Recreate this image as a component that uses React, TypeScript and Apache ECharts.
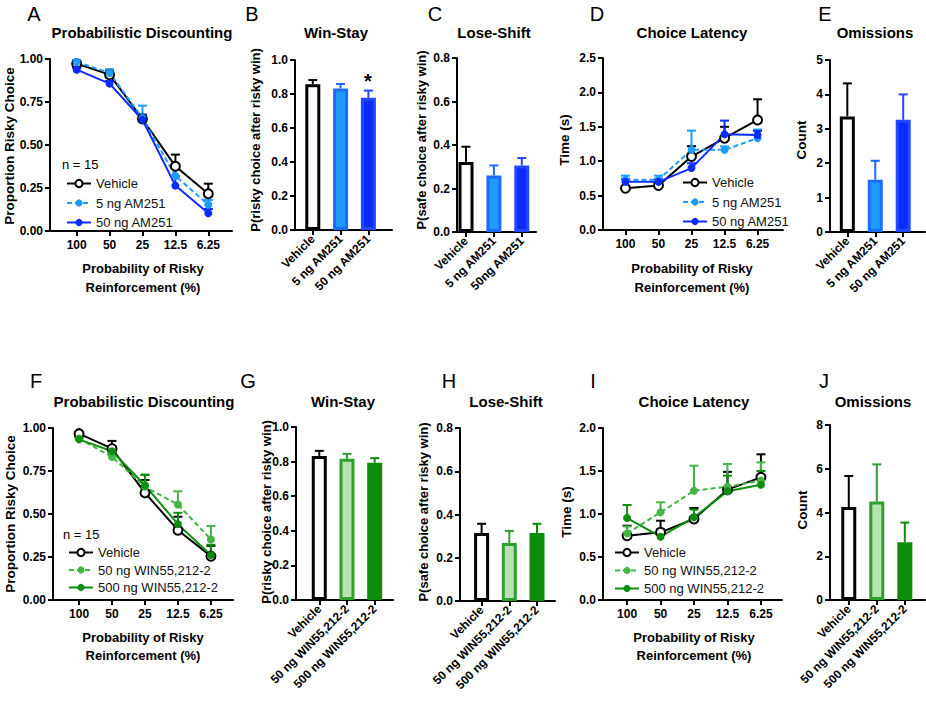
import React, { useEffect, useRef } from "react";
import * as echarts from "echarts";

const FONT = '"Liberation Sans", Arial, Helvetica, sans-serif';

// ---------- categories ----------
const probabilityLabels = ["100", "50", "25", "12.5", "6.25"];
const am251Groups = ["Vehicle", "5 ng AM251", "50 ng AM251"];
const am251GroupsC = ["Vehicle", "5 ng AM251", "50ng AM251"];
const winGroups = ["Vehicle", "50 ng WIN55,212-2", "500 ng WIN55,212-2"];

// ---------- A: Probabilistic discounting (AM251) ----------
const aVehMean = [0.973, 0.909, 0.651, 0.376, 0.217];
const aVehSem = [0.012, 0.029, 0.02, 0.068, 0.058];
const a5Mean = [0.983, 0.919, 0.657, 0.32, 0.153];
const a5Sem = [0.01, 0.02, 0.072, 0.06, 0.027];
const a50Mean = [0.938, 0.857, 0.647, 0.264, 0.103];
const a50Sem = [0.01, 0.015, 0.03, 0.054, 0.025];

// ---------- B: Win-Stay ----------
const bMean = [0.857, 0.833, 0.778];
const bSem = [0.025, 0.026, 0.042];

// ---------- C: Lose-Shift ----------
const cMean = [0.322, 0.26, 0.306];
const cSem = [0.07, 0.046, 0.034];

// ---------- D: Choice latency (AM251) ----------
const dVehMean = [0.607, 0.646, 1.068, 1.335, 1.6];
const dVehSem = [0.03, 0.03, 0.15, 0.165, 0.3];
const d5Mean = [0.73, 0.73, 1.165, 1.165, 1.335];
const d5Sem = [0.06, 0.06, 0.28, 0.05, 0.125];
const d50Mean = [0.7, 0.7, 0.9, 1.39, 1.38];
const d50Sem = [0.04, 0.04, 0.07, 0.2, 0.06];

// ---------- E: Omissions ----------
const eMean = [3.36, 1.52, 3.26];
const eSem = [0.96, 0.55, 0.74];

// ---------- F: Probabilistic discounting (WIN55,212-2) ----------
const fVehMean = [0.967, 0.88, 0.623, 0.406, 0.255];
const fVehSem = [0.01, 0.045, 0.075, 0.078, 0.06];
const f50Mean = [0.938, 0.832, 0.658, 0.555, 0.352];
const f50Sem = [0.01, 0.02, 0.072, 0.077, 0.078];
const f500Mean = [0.934, 0.865, 0.667, 0.441, 0.261];
const f500Sem = [0.01, 0.03, 0.06, 0.066, 0.06];

// ---------- G: Win-Stay ----------
const gMean = [0.833, 0.816, 0.794];
const gSem = [0.029, 0.029, 0.026];

// ---------- H: Lose-Shift ----------
const hMean = [0.314, 0.268, 0.314];
const hSem = [0.043, 0.056, 0.043];

// ---------- I: Choice latency (WIN55,212-2) ----------
const iVehMean = [0.748, 0.787, 0.942, 1.283, 1.426];
const iVehSem = [0.116, 0.135, 0.128, 0.207, 0.268];
const i50Mean = [0.775, 1.019, 1.271, 1.318, 1.388];
const i50Sem = [0.08, 0.117, 0.291, 0.263, 0.212];
const i500Mean = [0.953, 0.736, 0.961, 1.264, 1.341];
const i500Sem = [0.152, 0.09, 0.09, 0.182, 0.159];

// ---------- J: Omissions ----------
const jMean = [4.25, 4.5, 2.64];
const jSem = [1.42, 1.7, 0.9];

// ---------- styles ----------
const BLACK = "#000000";
const LIGHT_BLUE = "#1e9bff";
const DARK_BLUE = "#0a2cff";
const LIGHT_GREEN = "#45b545";
const DARK_GREEN = "#0e8e0e";

const blueBars = [
  { fill: "#ffffff", border: BLACK },
  { fill: "#1e9bff", border: "#1a6cff" },
  { fill: "#0a2cff", border: "#2448ff" },
];
const greenBars = [
  { fill: "#ffffff", border: BLACK },
  { fill: "#b8e2b3", border: "#2f9e2f" },
  { fill: "#0b8c0b", border: "#0b8c0b" },
];

// grid layout: [left, top, width, height, xmin, xmax, ymax, yinterval, decimals]
const panels = [
  [50, 59, 182, 172, -0.81, 4.72, 1, 0.25, 2], // A
  [295, 60, 97, 170, -0.64, 2.85, 1, 0.2, 1], // B
  [457, 58, 79, 174, -0.323, 2.51, 0.8, 0.2, 1], // C
  [603, 58, 180, 172, -0.68, 4.77, 2.5, 0.5, 1], // D
  [830, 60, 95, 172, -0.62, 2.78, 5, 1, 0], // E
  [53, 428, 180, 172, -0.79, 4.67, 1, 0.25, 2], // F
  [296, 427, 97, 173, -0.84, 2.66, 1, 0.2, 1], // G
  [460, 428, 95, 173, -0.78, 2.65, 0.8, 0.2, 1], // H
  [603, 428, 179, 172, -0.72, 4.63, 2, 0.5, 1], // I
  [830, 425, 95, 175, -0.67, 2.72, 8, 2, 0], // J
];
const panelLabels = [probabilityLabels, am251Groups, am251GroupsC, probabilityLabels, am251Groups,
  probabilityLabels, winGroups, winGroups, probabilityLabels, winGroups];

function lineSeries(name: string, idx: number, mean: number[], color: string, dashed: boolean, empty: boolean, z: number) {
  return {
    type: "line",
    name,
    xAxisIndex: idx,
    yAxisIndex: idx,
    data: mean.map((v, i) => [i, v]),
    symbol: "circle",
    symbolSize: empty ? 9 : 8,
    showSymbol: true,
    lineStyle: { color, width: 2, type: dashed ? [5, 3] : "solid" },
    itemStyle: empty
      ? { color: "#ffffff", borderColor: color, borderWidth: 2 }
      : { color, borderColor: color, borderWidth: 0 },
    z,
    silent: true,
  };
}

function errorSeries(idx: number, mean: number[], sem: number[], color: string, capW: number, z: number) {
  return {
    type: "custom",
    xAxisIndex: idx,
    yAxisIndex: idx,
    z,
    silent: true,
    clip: false,
    data: mean.map((v, i) => [i, v, v + sem[i]]),
    encode: { x: 0, y: [1, 2] },
    renderItem: (_p: any, api: any) => {
      const x = api.value(0);
      const p1 = api.coord([x, api.value(1)]);
      const p2 = api.coord([x, api.value(2)]);
      return {
        type: "group",
        children: [
          { type: "line", shape: { x1: p1[0], y1: p1[1], x2: p2[0], y2: p2[1] }, style: { stroke: color, lineWidth: 2 } },
          { type: "line", shape: { x1: p2[0] - capW / 2, y1: p2[1], x2: p2[0] + capW / 2, y2: p2[1] }, style: { stroke: color, lineWidth: 2 } },
        ],
      };
    },
  };
}

function barSet(idx: number, mean: number[], sem: number[], styles: { fill: string; border: string }[]) {
  const out: any[] = [
    {
      type: "bar",
      name: "bars" + idx,
      xAxisIndex: idx,
      yAxisIndex: idx,
      barWidth: 15,
      silent: true,
      z: 2,
      data: mean.map((v, i) => ({
        value: [i, v],
        itemStyle: { color: styles[i].fill, borderColor: styles[i].border, borderWidth: 3 },
      })),
    },
  ];
  mean.forEach((v, i) => {
    const s = errorSeries(idx, [v], [sem[i]], styles[i].border, 9, 3);
    s.data = [[i, v, v + sem[i]]];
    out.push(s);
  });
  return out;
}

function txt(text: string, x: number, y: number, size: number, weight: string, opts: any = {}) {
  return {
    type: "text",
    x,
    y,
    rotation: opts.rot || 0,
    silent: true,
    style: {
      text,
      fontSize: size,
      fontWeight: weight,
      fontFamily: FONT,
      fill: "#000",
      align: opts.align || "center",
      verticalAlign: opts.va || "middle",
    },
  };
}

function buildOption() {
  const grid = panels.map((p) => ({ left: p[0], top: p[1], width: p[2], height: p[3], containLabel: false }));
  const axisLine = { show: true, onZero: false, lineStyle: { color: "#000", width: 2 } };
  const xAxis = panels.map((p, idx) => {
    const labels = panelLabels[idx];
    const isBar = labels.length === 3;
    const ticks = labels.map((_, i) => i);
    return {
      type: "value",
      gridIndex: idx,
      min: p[4],
      max: p[5],
      axisLine,
      splitLine: { show: false },
      axisTick: { show: true, customValues: ticks, length: 5, lineStyle: { color: "#000", width: 2 } },
      axisLabel: {
        show: true,
        customValues: ticks,
        formatter: (v: number) => labels[Math.round(v)] ?? "",
        fontSize: 12,
        fontWeight: "bold",
        color: "#000",
        fontFamily: FONT,
        margin: isBar ? 7 : 8,
        rotate: isBar ? 45 : 0,
      },
    };
  });
  const yAxis = panels.map((p, idx) => ({
    type: "value",
    gridIndex: idx,
    min: 0,
    max: p[6],
    interval: p[7],
    axisLine,
    splitLine: { show: false },
    axisTick: { show: true, length: 5, lineStyle: { color: "#000", width: 2 } },
    axisLabel: {
      formatter: (v: number) => v.toFixed(p[8] as number),
      fontSize: 12,
      fontWeight: "bold",
      color: "#000",
      fontFamily: FONT,
      margin: 7,
    },
  }));

  const series: any[] = [
    // A
    errorSeries(0, aVehMean, aVehSem, BLACK, 9, 3),
    errorSeries(0, a5Mean, a5Sem, LIGHT_BLUE, 9, 3),
    errorSeries(0, a50Mean, a50Sem, DARK_BLUE, 9, 3),
    lineSeries("Vehicle", 0, aVehMean, BLACK, false, true, 5),
    lineSeries("5 ng AM251", 0, a5Mean, LIGHT_BLUE, true, false, 5),
    lineSeries("50 ng AM251", 0, a50Mean, DARK_BLUE, false, false, 5),
    // B, C
    ...barSet(1, bMean, bSem, blueBars),
    ...barSet(2, cMean, cSem, blueBars),
    // D
    errorSeries(3, dVehMean, dVehSem, BLACK, 9, 3),
    errorSeries(3, d5Mean, d5Sem, LIGHT_BLUE, 9, 3),
    errorSeries(3, d50Mean, d50Sem, DARK_BLUE, 9, 3),
    lineSeries("Vehicle", 3, dVehMean, BLACK, false, true, 5),
    lineSeries("5 ng AM251", 3, d5Mean, LIGHT_BLUE, true, false, 5),
    lineSeries("50 ng AM251", 3, d50Mean, DARK_BLUE, false, false, 5),
    // E
    ...barSet(4, eMean, eSem, blueBars),
    // F
    errorSeries(5, fVehMean, fVehSem, BLACK, 9, 3),
    errorSeries(5, f50Mean, f50Sem, LIGHT_GREEN, 9, 3),
    errorSeries(5, f500Mean, f500Sem, DARK_GREEN, 9, 3),
    lineSeries("Vehicle", 5, fVehMean, BLACK, false, true, 5),
    lineSeries("50 ng WIN55,212-2", 5, f50Mean, LIGHT_GREEN, true, false, 5),
    lineSeries("500 ng WIN55,212-2", 5, f500Mean, DARK_GREEN, false, false, 5),
    // G, H
    ...barSet(6, gMean, gSem, greenBars),
    ...barSet(7, hMean, hSem, greenBars),
    // I
    errorSeries(8, iVehMean, iVehSem, BLACK, 9, 3),
    errorSeries(8, i50Mean, i50Sem, LIGHT_GREEN, 9, 3),
    errorSeries(8, i500Mean, i500Sem, DARK_GREEN, 9, 3),
    lineSeries("Vehicle", 8, iVehMean, BLACK, false, true, 5),
    lineSeries("50 ng WIN55,212-2", 8, i50Mean, LIGHT_GREEN, true, false, 5),
    lineSeries("500 ng WIN55,212-2", 8, i500Mean, DARK_GREEN, false, false, 5),
    // J
    ...barSet(9, jMean, jSem, greenBars),
  ];

  const legendBase = {
    orient: "vertical",
    itemWidth: 24,
    itemHeight: 9,
    selectedMode: false,
    textStyle: { fontSize: 13, lineHeight: 13, color: "#111", fontFamily: FONT },
  };
  const legend = [
    { ...legendBase, left: 61, top: 172, itemGap: 6.5, data: am251Groups },
    { ...legendBase, left: 677, top: 171, itemGap: 6.5, data: am251Groups },
    { ...legendBase, left: 63, top: 541, itemGap: 4.5, data: winGroups },
    { ...legendBase, left: 609, top: 541, itemGap: 5, data: winGroups },
  ];

  const graphic = [
    // panel letters
    txt("A", 34, 4, 20, "normal", { va: "top" }),
    txt("B", 252, 4, 20, "normal", { va: "top" }),
    txt("C", 435, 4, 20, "normal", { va: "top" }),
    txt("D", 597, 4, 20, "normal", { va: "top" }),
    txt("E", 825, 4, 20, "normal", { va: "top" }),
    txt("F", 36, 371, 20, "normal", { va: "top" }),
    txt("G", 248, 371, 20, "normal", { va: "top" }),
    txt("H", 449, 371, 20, "normal", { va: "top" }),
    txt("I", 593, 371, 20, "normal", { va: "top" }),
    txt("J", 824, 371, 20, "normal", { va: "top" }),
    // titles
    txt("Probabilistic Discounting", 142, 32, 15, "bold"),
    txt("Win-Stay", 336, 32, 15, "bold"),
    txt("Lose-Shift", 494, 32, 15, "bold"),
    txt("Choice Latency", 692, 32, 15, "bold"),
    txt("Omissions", 875, 32, 15, "bold"),
    txt("Probabilistic Discounting", 144, 401, 15, "bold"),
    txt("Win-Stay", 343, 401, 15, "bold"),
    txt("Lose-Shift", 506, 401, 15, "bold"),
    txt("Choice Latency", 694, 401, 15, "bold"),
    txt("Omissions", 873, 401, 15, "bold"),
    // y axis names
    txt("Proportion Risky Choice", 9, 146, 13.5, "bold", { rot: Math.PI / 2 }),
    txt("P(risky choice after risky win)", 255, 140, 13, "bold", { rot: Math.PI / 2 }),
    txt("P(safe choice after risky win)", 421, 140, 13, "bold", { rot: Math.PI / 2 }),
    txt("Time (s)", 564, 140, 13.5, "bold", { rot: Math.PI / 2 }),
    txt("Count", 801, 140, 13.5, "bold", { rot: Math.PI / 2 }),
    txt("Proportion Risky Choice", 10, 514, 13.5, "bold", { rot: Math.PI / 2 }),
    txt("P(risky choice after risky win)", 266, 512, 13, "bold", { rot: Math.PI / 2 }),
    txt("P(safe choice after risky win)", 423, 512, 13, "bold", { rot: Math.PI / 2 }),
    txt("Time (s)", 566, 512, 13.5, "bold", { rot: Math.PI / 2 }),
    txt("Count", 802, 510, 13.5, "bold", { rot: Math.PI / 2 }),
    // x axis names
    txt("Probability of Risky", 143, 268, 13, "bold"),
    txt("Reinforcement (%)", 143, 287, 13, "bold"),
    txt("Probability of Risky", 692, 268, 13, "bold"),
    txt("Reinforcement (%)", 692, 287, 13, "bold"),
    txt("Probability of Risky", 143, 637, 13, "bold"),
    txt("Reinforcement (%)", 143, 655, 13, "bold"),
    txt("Probability of Risky", 694, 637, 13, "bold"),
    txt("Reinforcement (%)", 694, 655, 13, "bold"),
    // n labels
    txt("n = 15", 62, 164, 13, "normal", { align: "left" }),
    txt("n = 15", 63, 534, 13, "normal", { align: "left" }),
    // significance
    txt("*", 368, 81, 20, "bold"),
  ];

  return {
    animation: false,
    backgroundColor: "#ffffff",
    textStyle: { fontFamily: FONT },
    grid,
    xAxis,
    yAxis,
    legend,
    series,
    graphic,
  };
}

export default function App() {
  const ref = useRef<HTMLDivElement>(null);
  useEffect(() => {
    if (!ref.current) return;
    const chart = echarts.init(ref.current, undefined, { renderer: "svg" });
    chart.setOption(buildOption() as any);
    return () => chart.dispose();
  }, []);
  return (
    <div
      ref={ref}
      style={{ position: "absolute", left: 0, top: 0, width: 926, height: 704, background: "#fff" }}
    />
  );
}
